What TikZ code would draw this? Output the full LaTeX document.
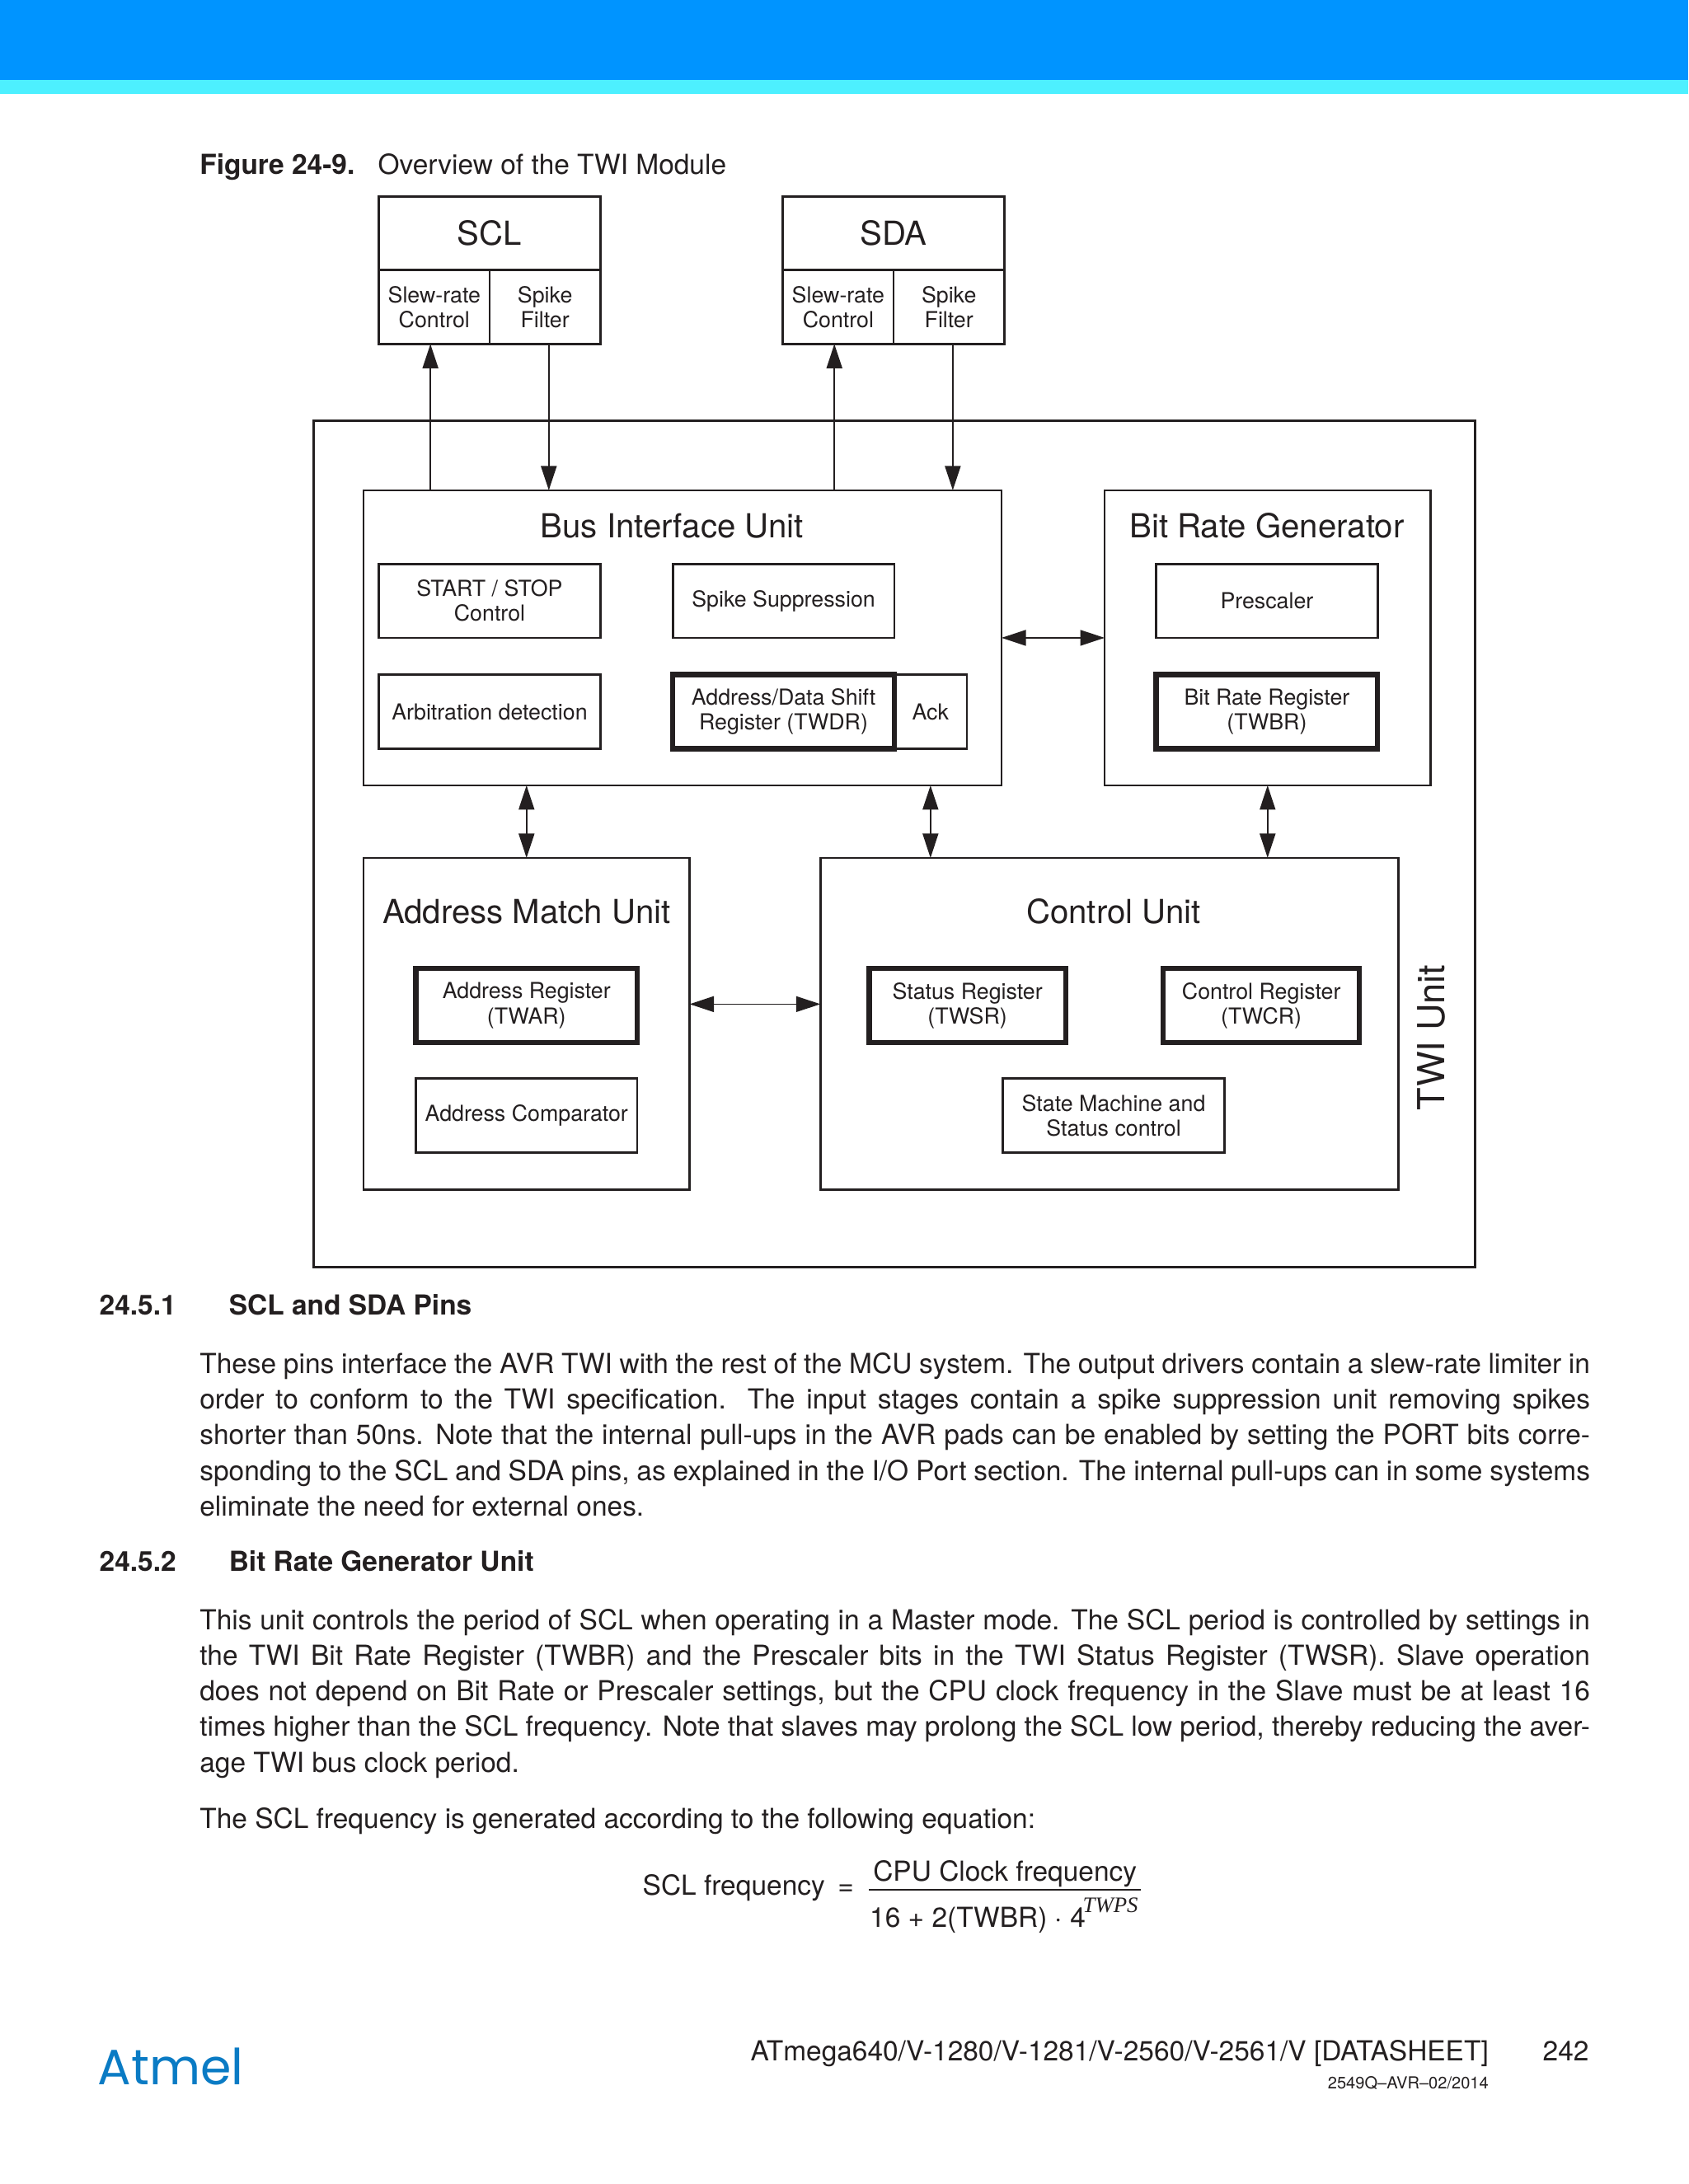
\documentclass[tikz,border=0pt]{standalone}
\usepackage{fontspec}
\setmainfont{TeX Gyre Heros}
\newfontfamily\serifit{Liberation Serif}
\newfontfamily\logofont{Poppins}
\usetikzlibrary{arrows.meta}
\definecolor{ink}{HTML}{231F20}
\definecolor{bandblue}{HTML}{0094FF}
\definecolor{bandcyan}{HTML}{4DF0FF}
\definecolor{logoblue}{HTML}{0A7BC4}
\tikzset{
  frame/.style={draw=ink,line width=.8pt,inner sep=0pt,outer sep=0pt,align=center,text=ink,font=\fontsize{8}{9}\selectfont},
  lbox/.style={frame,minimum width=80.3pt,minimum height=26.8pt},
  regbox/.style={lbox,line width=1.9pt},
  title/.style={anchor=base,inner sep=0pt,text=ink,font=\fontsize{12}{14}\selectfont},
  txt/.style={anchor=base west,inner sep=0pt,text=ink,font=\fontsize{10}{12.9}\selectfont},
  para/.style={anchor=north west,inner sep=0pt,text=ink,text width=504pt,align=justify,font=\fontsize{10}{12.9}\selectfont},
  arr/.style={draw=ink,line width=.45pt,-{Triangle[length=8.8pt,width=5.7pt]},shorten >=0pt},
  darr/.style={draw=ink,line width=.45pt,{Triangle[length=8.8pt,width=5.7pt]}-{Triangle[length=8.8pt,width=5.7pt]}}
}
\begin{document}
\begin{tikzpicture}[x=0.50495pt,y=-0.50495pt]
  \useasboundingbox (0,0) rectangle (1212,1568.2);
  \fill[bandblue] (0,0) rectangle (1212,57.5);
  \fill[bandcyan] (0,57.5) rectangle (1212,67.5);

  \node[txt] (CAP) at (143,125) {\textbf{Figure 24-9.}};
  \node[txt] (CAPT) at (271,125) {Overview of the TWI Module};

  % pins
  \node[lbox,font=\fontsize{12}{14}\selectfont] (SCL) at (351.5,167.5) {SCL};
  \node[frame,minimum width=40.1pt,minimum height=26.8pt] (SCLS) at (311.75,220.5) {Slew-rate\\Control};
  \node[frame,minimum width=40.1pt,minimum height=26.8pt] (SCLF) at (391.25,220.5) {Spike\\Filter};
  \node[lbox,font=\fontsize{12}{14}\selectfont] (SDA) at (641.5,167.5) {SDA};
  \node[frame,minimum width=40.1pt,minimum height=26.8pt] (SDAS) at (601.75,220.5) {Slew-rate\\Control};
  \node[frame,minimum width=40.1pt,minimum height=26.8pt] (SDAF) at (681.25,220.5) {Spike\\Filter};

  % units
  \node[frame,minimum width=421.1pt,minimum height=307pt] (TWI) at (642,606) {};
  \node[frame,minimum width=231.3pt,minimum height=107pt] (BIU) at (490,458) {};
  \node[frame,minimum width=118.2pt,minimum height=107pt] (BRG) at (910,458) {};
  \node[frame,minimum width=118.2pt,minimum height=120.2pt] (AMU) at (378,735) {};
  \node[frame,minimum width=209.6pt,minimum height=120.2pt] (CU) at (796.5,735) {};

  \node[title] (BIUT) at (482.5,386) {Bus Interface Unit};
  \node[title] (BRGT) at (909.5,386) {Bit Rate Generator};
  \node[title] (AMUT) at (378,663) {Address Match Unit};
  \node[title] (CUT) at (799.5,663) {Control Unit};
  \node[title,rotate=90,font=\fontsize{13.5}{14}\selectfont] (TWIT) at (1037,745) {TWI Unit};

  \node[lbox] (START) at (351.5,431.5) {START / STOP\\Control};
  \node[lbox] (SPIKE) at (562.5,431.5) {Spike Suppression};
  \node[lbox] (ARB) at (351.5,511) {Arbitration detection};
  \node[frame,minimum width=26.3pt,minimum height=26.8pt] (ACK) at (668,511) {Ack};
  \node[regbox] (TWDR) at (562.5,511) {Address/Data Shift\\Register (TWDR)};
  \node[lbox] (PRE) at (909.5,431.5) {Prescaler};
  \node[regbox] (TWBR) at (909.5,511) {Bit Rate Register\\(TWBR)};
  \node[regbox] (TWAR) at (378,722) {Address Register\\(TWAR)};
  \node[lbox] (COMP) at (378,801) {Address Comparator};
  \node[regbox,minimum width=71.2pt] (TWSR) at (694.5,722) {Status Register\\(TWSR)};
  \node[regbox,minimum width=71.2pt] (TWCR) at (905.5,722) {Control Register\\(TWCR)};
  \node[lbox] (STATE) at (799.5,801) {State Machine and\\Status control};

  % connectors
  \coordinate (SCLup) at (309,0);
  \coordinate (SCLdn) at (394,0);
  \coordinate (SDAup) at (599,0);
  \coordinate (SDAdn) at (684,0);
  \coordinate (DATA) at (668,0);
  \coordinate (LINK) at (0,721);
  \draw[arr] (BIU.north -| SCLup) -- (SCLS.south -| SCLup);
  \draw[arr] (SCLF.south -| SCLdn) -- (BIU.north -| SCLdn);
  \draw[arr] (BIU.north -| SDAup) -- (SDAS.south -| SDAup);
  \draw[arr] (SDAF.south -| SDAdn) -- (BIU.north -| SDAdn);
  \draw[darr] (BIU.east) -- (BRG.west);
  \draw[darr] (BIU.south -| AMU.north) -- (AMU.north);
  \draw[darr] (BIU.south -| DATA) -- (CU.north -| DATA);
  \draw[darr] (BRG.south) -- (CU.north -| BRG.south);
  \draw[darr] (AMU.east |- LINK) -- (CU.west |- LINK);

  % text
  \node[txt,font=\fontsize{10}{12}\bfseries] (H1) at (71,944) {24.5.1};
  \node[txt,font=\fontsize{10}{12}\bfseries] (H1T) at (164,944) {SCL and SDA Pins};
  \node[para] (P1) at (143,971) {These pins interface the AVR TWI with the rest of the MCU system. The output drivers contain a slew-rate limiter in\linebreak
    order to conform to the TWI specification. The input stages contain a spike suppression unit removing spikes\linebreak
    shorter than 50ns. Note that the internal pull-ups in the AVR pads can be enabled by setting the PORT bits corre-\linebreak
    sponding to the SCL and SDA pins, as explained in the I/O Port section. The internal pull-ups can in some systems\linebreak
    eliminate the need for external ones.};
  \node[txt,font=\fontsize{10}{12}\bfseries] (H2) at (71,1128) {24.5.2};
  \node[txt,font=\fontsize{10}{12}\bfseries] (H2T) at (164,1128) {Bit Rate Generator Unit};
  \node[para] (P2) at (143,1155) {This unit controls the period of SCL when operating in a Master mode. The SCL period is controlled by settings in\linebreak
    the TWI Bit Rate Register (TWBR) and the Prescaler bits in the TWI Status Register (TWSR). Slave operation\linebreak
    does not depend on Bit Rate or Prescaler settings, but the CPU clock frequency in the Slave must be at least 16\linebreak
    times higher than the SCL frequency. Note that slaves may prolong the SCL low period, thereby reducing the aver-\linebreak
    age TWI bus clock period.};
  \node[txt] (P3) at (143,1313) {The SCL frequency is generated according to the following equation:};

  % equation
  \node[txt] (LHS) at (461,1361) {SCL frequency};
  \node[txt] (EQ) at (601,1361) {=};
  \node[title,font=\fontsize{10}{12}\selectfont] (NUM) at (721.5,1351) {CPU Clock frequency};
  \node[txt] (DEN) at (624,1384) {16 + 2(TWBR) $\cdot$ 4};
  \node[txt,font=\fontsize{8}{9}\serifit\itshape] (EXP) at (777,1373) {TWPS};
  \coordinate (BARL) at (624,1357);
  \coordinate (BARR) at (819,1357);
  \draw[ink,line width=.6pt] (BARL) -- (BARR);

  % footer
  \node[anchor=base west,inner sep=0pt,text=logoblue,font=\logofont\fontsize{18}{20}\selectfont] (LOGO) at (70,1497) {Atmel};
  \node[txt,anchor=base east] (FOOT) at (1069,1480) {ATmega640/V-1280/V-1281/V-2560/V-2561/V [DATASHEET]};
  \node[txt,anchor=base east] (PAGE) at (1141,1480) {242};
  \node[txt,anchor=base east,font=\fontsize{6}{7}\selectfont] (REV) at (1069,1500) {2549Q--AVR--02/2014};
\end{tikzpicture}
\end{document}
